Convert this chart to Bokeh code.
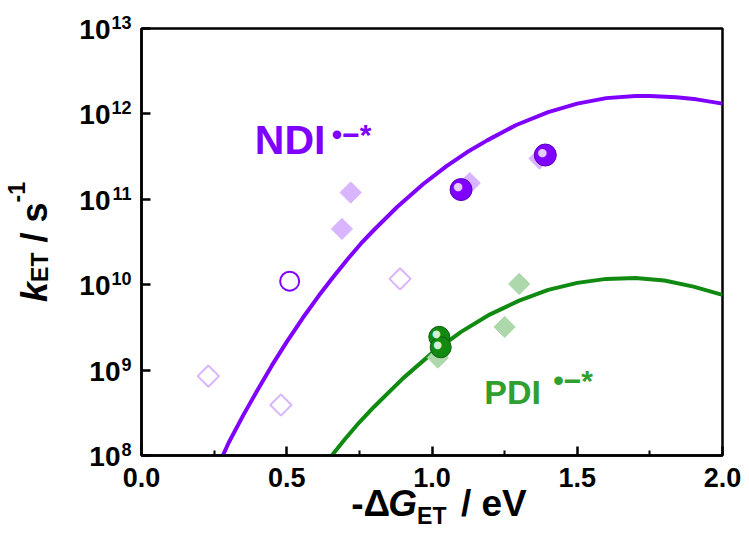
import math
from bokeh.plotting import figure
from bokeh.models import (FixedTicker, Label, Range1d, CustomJSTickFormatter, PrintfTickFormatter)
from bokeh.core.properties import value
from bokeh.embed import file_html
from bokeh.resources import INLINE

# ---------------- data ----------------
ndi_curve_x = [0.25, 0.28, 0.30, 0.35, 0.40, 0.45, 0.50, 0.555, 0.61, 0.66, 0.71, 0.755, 0.80,
               0.88, 0.97, 1.05, 1.12, 1.19, 1.29, 1.40, 1.50, 1.60, 1.70, 1.75, 1.84, 1.91, 2.00]
ndi_curve_k = [5.8e7, 1.0e8, 1.41e8, 2.95e8, 5.89e8, 1.15e9, 2.14e9, 4.07e9, 7.41e9, 1.23e10,
               2.0e10, 3.02e10, 4.37e10, 8.13e10, 1.51e11, 2.45e11, 3.55e11, 4.9e11, 7.41e11,
               1.05e12, 1.32e12, 1.53e12, 1.62e12, 1.62e12, 1.57e12, 1.48e12, 1.32e12]

pdi_curve_x = [0.62, 0.655, 0.70, 0.75, 0.80, 0.90, 1.00, 1.10, 1.20, 1.30, 1.40, 1.50,
               1.60, 1.70, 1.80, 1.90, 2.00]
pdi_curve_k = [7.1e7, 1.0e8, 1.55e8, 2.45e8, 3.7e8, 8.0e8, 1.58e9, 2.8e9, 4.5e9, 6.5e9, 8.7e9,
               1.05e10, 1.17e10, 1.2e10, 1.12e10, 9.5e9, 7.6e9]

ndi_sphere_x = [1.10, 1.39]
ndi_sphere_k = [1.3e11, 3.3e11]
ndi_open_circle_x = [0.51]
ndi_open_circle_k = [1.1e10]
ndi_filled_diamond_x = [0.69, 0.72, 1.13, 1.37]
ndi_filled_diamond_k = [4.5e10, 1.2e11, 1.55e11, 3.0e11]
ndi_open_diamond_x = [0.23, 0.48, 0.89]
ndi_open_diamond_k = [8.5e8, 3.9e8, 1.17e10]

pdi_sphere_x = [1.025, 1.03]
pdi_sphere_k = [2.45e9, 1.85e9]
pdi_diamond_x = [1.02, 1.25, 1.30]
pdi_diamond_k = [1.4e9, 3.2e9, 1.02e10]

x_ticks = [0.0, 0.5, 1.0, 1.5, 2.0]
x_minor_ticks = [0.25, 0.75, 1.25, 1.75]
y_exponents = [8, 9, 10, 11, 12, 13]

# ---------------- styling ----------------
FONT = "Liberation Sans"
PURPLE = "#7f00ff"
PURPLE_LIGHT = "#d9b5ff"
GREEN = "#118a11"
GREEN_LIGHT = "#acd8ac"
GREEN_TEXT = "#2f9f2f"

W, H = 741, 544
FL, FR, FT, FB = 141, 722, 28, 455   # frame edges in canvas pixels
p = figure(width=W, height=H, x_range=Range1d(0, 2.0), y_range=Range1d(1e8, 1e13),
           y_axis_type="log", output_backend="svg", toolbar_location=None,
           min_border_left=FL, min_border_right=W - FR, min_border_top=FT,
           min_border_bottom=H - FB)
p.xgrid.visible = False
p.ygrid.visible = False
p.outline_line_color = "black"
p.outline_line_width = 2.5
p.outline_line_alpha = 1.0
p.background_fill_color = "white"
p.border_fill_color = "white"

xa = p.xaxis[0]
ya = p.yaxis[0]
xa.ticker = FixedTicker(ticks=x_ticks, minor_ticks=x_minor_ticks)
ya.ticker = FixedTicker(ticks=[10.0 ** e for e in y_exponents], minor_ticks=[])
for ax in (xa, ya):
    ax.axis_line_width = 2.5
    ax.axis_line_color = "black"
    ax.major_tick_line_width = 2.5
    ax.major_tick_in = 9
    ax.major_tick_out = 0
    ax.minor_tick_line_width = 2
    ax.minor_tick_in = 5
    ax.minor_tick_out = 0
xa.formatter = PrintfTickFormatter(format="%.1f")
xa.major_label_text_font = FONT
xa.major_label_text_font_style = "bold"
xa.major_label_text_font_size = "27px"
xa.major_label_text_color = "black"
xa.major_label_standoff = 12
ya.formatter = CustomJSTickFormatter(code="return ''")

# ---------------- rich text helpers (overlay text glyphs are not clipped) ----------------
ADV = {' ': 278, '-': 333, '/': 278, '.': 278, '0': 556, '1': 556, 'E': 667, 'T': 611,
       'G': 778, 'e': 556, 'V': 667, 'k': 556, 's': 556, 'Δ': 667}


def tw(s, size):
    return sum(ADV.get(c, 556) for c in s) * size / 1000.0


def overlay_text(xs, ys, texts, size, style, xo, yo, align="left", baseline="middle", angle=0.0):
    p.text(x=xs, y=ys, text=texts, x_offset=xo, y_offset=yo, angle=angle,
           text_font=value(FONT), text_font_style=style, text_font_size=f"{size}px",
           text_color="black", text_align=align, text_baseline=baseline, level="overlay")


# y tick labels: "10" + superscript exponent
base_fs, exp_fs = 28, 18
exp_txt = [str(e) for e in y_exponents]
tick_y = [10.0 ** e for e in y_exponents]
overlay_text([0.0] * len(tick_y), tick_y, ["10"] * len(tick_y), base_fs, "bold",
             [-11 - tw(s, exp_fs) for s in exp_txt], [1] * len(tick_y), align="right")
overlay_text([0.0] * len(tick_y), tick_y, exp_txt, exp_fs, "bold",
             [-10] * len(tick_y), [-6] * len(tick_y), align="right")

# x-axis title:  -ΔG_ET / eV
XS, XSS = 37, 23
x_parts = [("-Δ", XS, "bold", 0, 0), ("G", XS, "bold italic", 0, 0), ("ET", XSS, "bold", 12, 0),
           ("/ eV", XS, "bold", 0, tw(" ", XS) * 1.4)]
total = sum(tw(t, s) + gap for t, s, _, _, gap in x_parts)
cur = -total / 2 + 7
for t, s, st, dy, gap in x_parts:
    cur += gap
    overlay_text([1.0], [1e8], [t], s, st, [cur], [48 + dy])
    cur += tw(t, s)

# y-axis title:  k_ET / s^-1  (rotated)
YS, YSS = 36, 23
y_parts = [("k", YS, "bold italic", 0, 0), ("ET", YSS, "bold", 5, 0), ("/ s", YS, "bold", 0, tw(" ", YS)),
           ("-1", YSS, "bold", -18, 0)]
total = sum(tw(t, s) + gap for t, s, _, _, gap in y_parts)
cur = -total / 2
for t, s, st, dx, gap in y_parts:
    cur += gap
    overlay_text([0.0], [10 ** 10.5], [t], s, st, [-107 + dx], [-cur], angle=math.pi / 2)
    cur += tw(t, s)

# ---------------- curves ----------------
p.line(ndi_curve_x, ndi_curve_k, line_color=PURPLE, line_width=4)
p.line(pdi_curve_x, pdi_curve_k, line_color=GREEN, line_width=4)

# ---------------- markers ----------------
p.scatter(ndi_filled_diamond_x, ndi_filled_diamond_k, marker="square", angle=math.pi / 4,
          size=15, fill_color=PURPLE_LIGHT, line_color=PURPLE_LIGHT)
p.scatter(ndi_open_diamond_x, ndi_open_diamond_k, marker="square", angle=math.pi / 4,
          size=15, fill_color=None, line_color=PURPLE_LIGHT, line_width=2)
p.scatter(pdi_diamond_x, pdi_diamond_k, marker="square", angle=math.pi / 4,
          size=15, fill_color=GREEN_LIGHT, line_color=GREEN_LIGHT)
p.scatter(ndi_open_circle_x, ndi_open_circle_k, marker="circle", size=19,
          fill_color=None, line_color=PURPLE, line_width=2)

p.scatter(ndi_sphere_x, ndi_sphere_k, marker="circle", size=22,
          fill_color=PURPLE, line_color="#5a00b5", line_width=1)
p.text(ndi_sphere_x, ndi_sphere_k, text=["●"] * len(ndi_sphere_x), text_font=value("DejaVu Sans"),
       text_font_size="11px", text_color="#e4ccff", text_align="center", text_baseline="middle",
       x_offset=-3, y_offset=-3)
p.scatter(pdi_sphere_x, pdi_sphere_k, marker="circle", size=21,
          fill_color=GREEN, line_color="#0a5e0a", line_width=1)
p.text(pdi_sphere_x, pdi_sphere_k, text=["●"] * len(pdi_sphere_x), text_font=value("DejaVu Sans"),
       text_font_size="10px", text_color="#d4f0d4", text_align="center", text_baseline="middle",
       x_offset=-3, y_offset=-3)

# ---------------- series labels ----------------
p.add_layout(Label(x=0.39, y=3.5e11, y_offset=13, text="NDI", text_font=FONT, text_font_style="bold",
                   text_font_size="41px", text_color=PURPLE, text_baseline="alphabetic"))
p.add_layout(Label(x=0.39, y=3.5e11, x_offset=77, y_offset=18, text="•−*", text_font=FONT,
                   text_font_style="bold", text_font_size="30px", text_color=PURPLE,
                   text_baseline="alphabetic"))
p.add_layout(Label(x=1.18, y=4.5e8, y_offset=8, text="PDI", text_font=FONT, text_font_style="bold",
                   text_font_size="34px", text_color=GREEN_TEXT, text_baseline="alphabetic"))
p.add_layout(Label(x=1.18, y=4.5e8, x_offset=69, y_offset=19, text="•−*", text_font=FONT,
                   text_font_style="bold", text_font_size="30px", text_color=GREEN_TEXT,
                   text_baseline="alphabetic"))

open("out.html", "w").write(file_html(p, INLINE))
